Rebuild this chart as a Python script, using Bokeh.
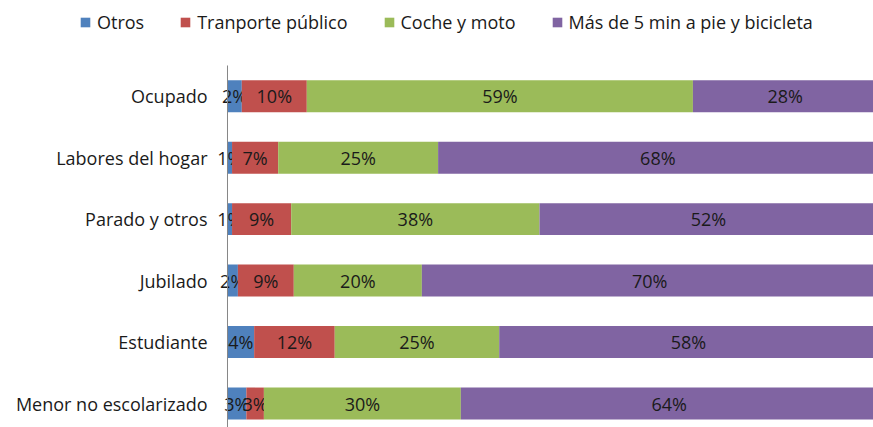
from bokeh.plotting import figure
from bokeh.models import Range1d, Legend, LegendItem, ColumnDataSource
from bokeh.core.properties import value
from bokeh.embed import file_html
from bokeh.resources import INLINE

categories = ["Ocupado", "Labores del hogar", "Parado y otros", "Jubilado",
              "Estudiante", "Menor no escolarizado"]
series = ["Otros", "Tranporte público", "Coche y moto", "Más de 5 min a pie y bicicleta"]
otros = [2.2, 0.7, 0.7, 1.6, 4.1, 2.9]
transporte = [10.0, 7.1, 9.1, 8.6, 12.4, 2.7]
coche = [59.4, 24.6, 38.2, 19.7, 25.3, 30.3]
pie = [28.4, 67.6, 52.0, 70.1, 58.2, 64.1]
colors = ["#4F81BD", "#C0504D", "#9BBB59", "#8064A2"]

FONT = "Open Sans"
FS = "18px"
TXT = "#1a1a1a"
n = len(categories)
ypos = [n - 1 - i for i in range(n)]

p = figure(width=873, height=427, output_backend="svg", toolbar_location=None,
           x_range=Range1d(-34.92, 99.38), y_range=Range1d(-0.39, 6.557),
           x_axis_location=None, y_axis_location=None,
           min_border_left=0, min_border_right=0,
           min_border_top=0, min_border_bottom=0)
p.outline_line_color = None
p.grid.grid_line_color = None

values = [otros, transporte, coche, pie]
left = [0.0] * n
items = []
for s, vals, c in zip(series, values, colors):
    right = [l + v for l, v in zip(left, vals)]
    src = ColumnDataSource(dict(y=ypos, left=left, right=right,
                                mid=[(l + r) / 2 for l, r in zip(left, right)],
                                lab=[f"{round(v)}%" for v in vals]))
    r = p.hbar(y="y", left="left", right="right", height=0.52, source=src,
               fill_color=c, line_color=None)
    p.text(x="mid", y="y", text="lab", source=src, text_align="center",
           text_baseline="middle", text_font=value(FONT), text_font_size=FS,
           text_color=TXT)
    items.append(LegendItem(label=s, renderers=[r]))
    left = right

# category axis: vertical axis line at 0 and category labels
p.segment(x0=[0], y0=[min(ypos) - 0.39], x1=[0], y1=[max(ypos) + 0.5],
          line_color="#868686", line_width=1)
cat_src = ColumnDataSource(dict(x=[0] * n, y=ypos, t=categories))
p.text(x="x", y="y", text="t", source=cat_src, x_offset=-20,
       text_align="right", text_baseline="middle", text_font=value(FONT),
       text_font_size=FS, text_color=TXT)

legend = Legend(items=items, orientation="horizontal", location=(79, 393),
                glyph_width=12, glyph_height=12, label_standoff=6, spacing=35,
                padding=0, margin=0, border_line_color=None,
                background_fill_alpha=0, label_text_font=FONT,
                label_text_font_size=FS, label_text_color=TXT)
p.add_layout(legend, "center")

open("out.html", "w").write(file_html(p, INLINE))
